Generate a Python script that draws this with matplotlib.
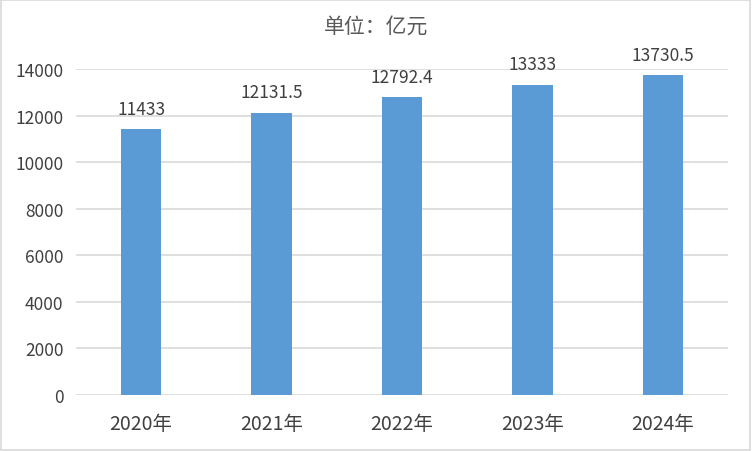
import matplotlib.pyplot as plt
from matplotlib.patches import Rectangle

plt.rcParams['font.family'] = ['Noto Sans CJK SC', 'DejaVu Sans']

# 数据
years = ["2020年", "2021年", "2022年", "2023年", "2024年"]
values = [11433, 12131.5, 12792.4, 13333, 13730.5]
value_labels = ["11433", "12131.5", "12792.4", "13333", "13730.5"]
y_ticks = [0, 2000, 4000, 6000, 8000, 10000, 12000, 14000]

text_color = "#404040"
bar_color = "#5B9BD5"

fig = plt.figure(figsize=(7.52, 4.52), dpi=100)
ax = fig.add_axes([0.101, 0.124, 0.867, 0.721])

x = range(len(years))
bars = ax.bar(x, values, width=0.31, color=bar_color, zorder=3)

# 数值标签
for xi, v, lab in zip(x, values, value_labels):
    ax.annotate(lab, (xi, v), xytext=(0, 8), textcoords="offset points",
                ha="center", va="bottom", fontsize=12.5, color=text_color,
                annotation_clip=False)

ax.set_xlim(-0.5, len(years) - 0.5)
ax.set_ylim(0, 14000)
ax.set_yticks(y_ticks)
ax.set_yticklabels([str(t) for t in y_ticks])
ax.set_xticks(list(x))
ax.set_xticklabels(years)
ax.tick_params(axis="both", length=0, labelcolor=text_color)
ax.tick_params(axis="y", pad=9, labelsize=12.5)
ax.tick_params(axis="x", pad=13, labelsize=14)
ax.grid(axis="y", color="#D9D9D9", linewidth=1.2, zorder=0)
for s in ax.spines.values():
    s.set_visible(False)

fig.text(0.5, 0.94, "单位：亿元", ha="center", va="center", fontsize=15,
         color="#595959")

# 外框
fig.patches.append(Rectangle((0.001, 0.002), 0.997, 0.996, transform=fig.transFigure,
                             fill=False, edgecolor="#D9D9D9", linewidth=1.2))

fig.savefig("out.png", dpi=100)
